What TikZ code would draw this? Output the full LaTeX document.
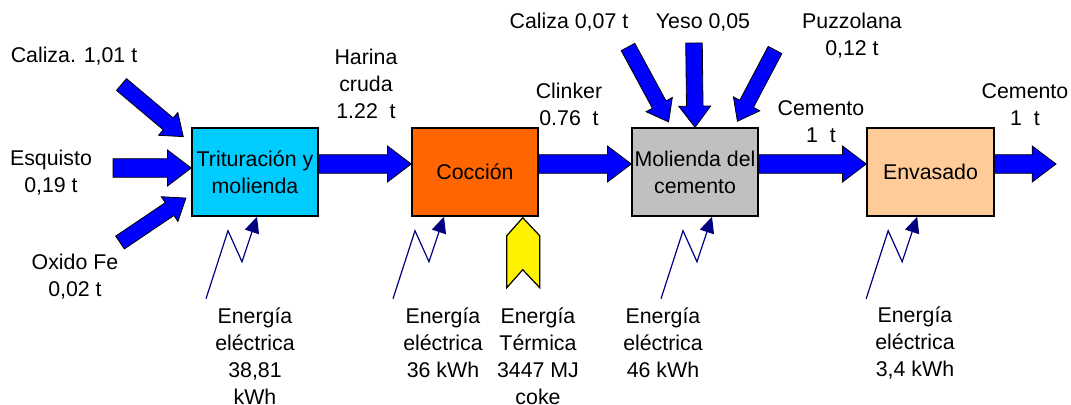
\documentclass[tikz,border=0pt]{standalone}
\usepackage{fontspec}
\setmainfont{Liberation Sans}
\usepackage{tikz}
\usetikzlibrary{arrows.meta,positioning,calc}

\definecolor{arrowblue}{HTML}{0000FF}
\definecolor{boltnavy}{HTML}{000080}
\definecolor{trit}{HTML}{00CCFF}
\definecolor{cocc}{HTML}{FF6600}
\definecolor{molc}{HTML}{C0C0C0}
\definecolor{envs}{HTML}{FFCC99}

% block arrow from #2 to #3, #1 = half width of the shaft
\newcommand{\fatarrow}[3][7pt]{%
  \coordinate (fa-h) at ($(#3)!2.55*#1!(#2)$);
  \draw[fat] ($(#2)!#1!90:(#3)$) -- ($(fa-h)!#1!-90:(#2)$)
    -- ($(fa-h)!1.93*#1!-90:(#2)$) -- (#3)
    -- ($(fa-h)!1.93*#1!90:(#2)$) -- ($(fa-h)!#1!90:(#2)$)
    -- ($(#2)!#1!-90:(#3)$) -- cycle;}
% electric energy zigzag ending at #1
\newcommand{\bolt}[1]{%
  \draw[bolt] ($(#1)+(-51,82)$) -- ++(22,-68) -- ++(14,31) -- (#1);}

\begin{document}
\begin{tikzpicture}[x=0.75pt,y=-0.75pt,>=Latex,
  font=\fontsize{16}{20.25}\selectfont,
  box/.style={draw,line width=1.1pt,minimum width=94.5pt,minimum height=66pt,inner sep=0pt,align=center},
  fat/.style={draw=black,line width=0.6pt,fill=arrowblue,line join=miter},
  bolt/.style={draw=boltnavy,line width=0.9pt,-{Triangle[length=12pt,width=11pt]}},
  coke/.style={draw=black,line width=0.9pt,fill=yellow,line join=miter},
  lbl/.style={align=center,inner sep=0pt}]
\useasboundingbox (0,0) rectangle (1071,404);

% process boxes
\node[box,fill=trit] (trit) at (255,172) {Trituración y\\molienda};
\node[box,fill=cocc] (cocc) at (475,172) {Cocción};
\node[box,fill=molc] (molc) at (695,172) {Molienda del\\cemento};
\node[box,fill=envs,minimum width=95.25pt] (envs) at (930.5,172) {Envasado};

% raw materials
\coordinate (calA) at (121.5,84.5);
\coordinate (esqA) at (113,168);
\coordinate (oxiA) at (120,242.5);
\coordinate (calB) at (628,47);
\coordinate (yesA) at (694,43);
\coordinate (puzA) at (775,50);
\coordinate (calAt) at ([xshift=-6pt,yshift=-7pt]trit.north west);
\coordinate (esqAt) at ([yshift=3pt]trit.west);
\coordinate (oxiAt) at ([xshift=-4pt,yshift=14pt]trit.south west);
\coordinate (calBt) at ([xshift=28pt,yshift=4pt]molc.north west);
\coordinate (puzAt) at ([xshift=-16pt,yshift=4.5pt]molc.north east);
\fatarrow[5.8pt]{calA}{calAt}
\fatarrow{esqA}{esqAt}
\fatarrow[5.8pt]{oxiA}{oxiAt}
\fatarrow[5.8pt]{calB}{calBt}
\fatarrow[6.2pt]{yesA}{molc.north}
\fatarrow[5.8pt]{puzA}{puzAt}

% main flow
\coordinate (f1a) at ([yshift=6pt]trit.east);
\coordinate (f1b) at ([yshift=6pt]cocc.west);
\coordinate (f2a) at ([yshift=6pt]cocc.east);
\coordinate (f2b) at ([yshift=6pt]molc.west);
\coordinate (f3a) at ([yshift=6pt]molc.east);
\coordinate (f3b) at ([yshift=6pt]envs.west);
\coordinate (f4a) at ([yshift=6pt]envs.east);
\coordinate (f4b) at (1056,164);
\fatarrow{f1a}{f1b}
\fatarrow{f2a}{f2b}
\fatarrow{f3a}{f3b}
\fatarrow{f4a}{f4b}

% energy inputs
\bolt{[xshift=1.5pt]trit.south}
\bolt{[xshift=-23.25pt]cocc.south}
\bolt{[xshift=12.75pt]molc.south}
\bolt{[xshift=-10pt]envs.south}
\coordinate (cokeT) at ([xshift=-12pt,yshift=-0.75pt]cocc.south east);
\draw[coke] (cokeT) -- ++(17,18) -- ++(0,52) -- ++(-17,-18) -- ++(-16,18)
  -- ++(0,-52) -- cycle;

% labels
\node[lbl] (lcalA) at (74,56) {Caliza. 1,01 t};
\node[lbl] (lesq) at (51,173) {Esquisto\\0,19 t};
\node[lbl] (loxi) at (75,277) {Oxido Fe\\0,02 t};
\node[lbl] (lhar) at (366,84) {Harina\\cruda\\1.22~~t};
\node[lbl] (lcli) at (569,104) {Clinker\\0.76~~t};
\node[lbl] (lcalB) at (569,22) {Caliza 0,07 t};
\node[lbl] (lyes) at (703,22) {Yeso 0,05};
\node[lbl] (lpuz) at (852,36) {Puzzolana\\0,12 t};
\node[lbl] (lcem) at (821,122) {Cemento\\1~~t};
\node[lbl] (lcemB) at (1025,105) {Cemento\\1~~t};
\node[lbl] (le1) at (255,356) {Energía\\eléctrica\\38,81\\kWh};
\node[lbl] (le2) at (443,343) {Energía\\eléctrica\\36 kWh};
\node[lbl] (lter) at (538,356) {Energía\\Térmica\\3447 MJ\\coke};
\node[lbl] (le3) at (663,343) {Energía\\eléctrica\\46 kWh};
\node[lbl] (le4) at (915,343) {Energía\\eléctrica\\3,4 kWh};
\end{tikzpicture}
\end{document}
